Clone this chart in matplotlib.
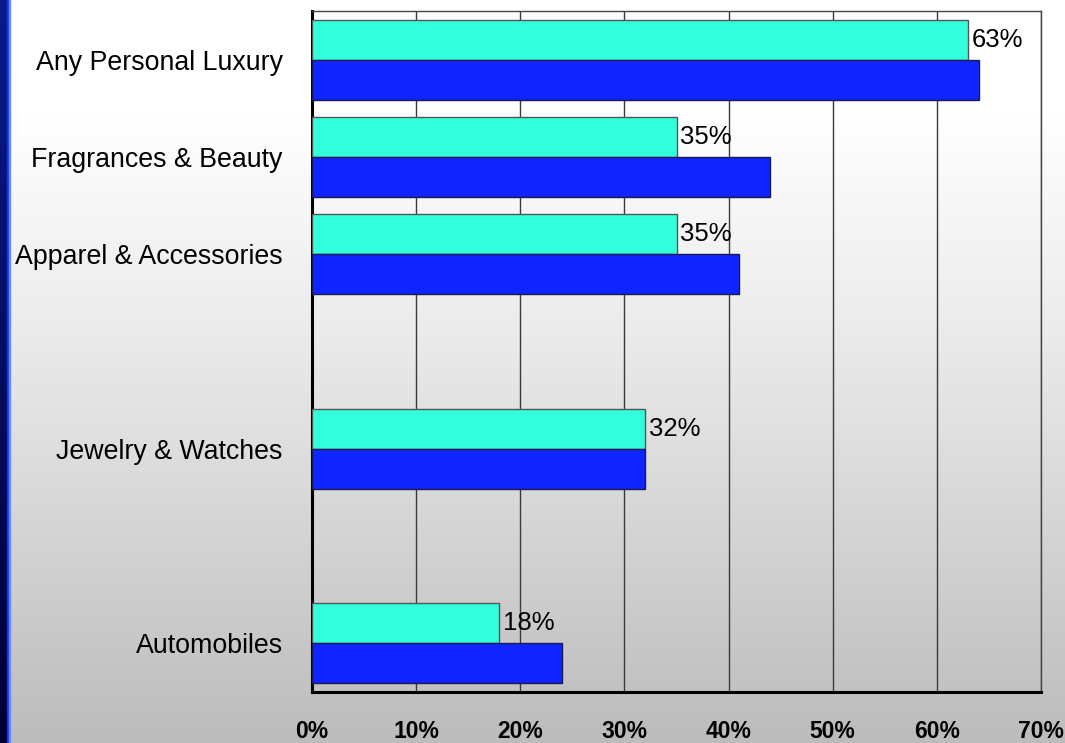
import numpy as np
import matplotlib
matplotlib.use("Agg")
import matplotlib.pyplot as plt
from matplotlib.colors import LinearSegmentedColormap

plt.rcParams["font.family"] = ["Liberation Sans", "DejaVu Sans"]

# blank slots are empty rows in the original sheet
categories = ["Any Personal Luxury", "Fragrances & Beauty", "Apparel & Accessories", "",
              "Jewelry & Watches", "", "Automobiles"]
series_a = [63, 35, 35, np.nan, 32, np.nan, 18]
series_b = [64, 44, 41, np.nan, 32, np.nan, 24]
x_ticks = [0, 10, 20, 30, 40, 50, 60, 70]

CYAN = "#33FFDD"
BLUE = "#1024FF"

fig = plt.figure(figsize=(10.65, 7.43), dpi=100)

# background gradient (white top -> gray bottom)
bg = fig.add_axes([0, 0, 1, 1], zorder=-10)
grad = np.linspace(0, 1, 256).reshape(-1, 1)
bg_cmap = LinearSegmentedColormap.from_list(
    "bg", [(0, "#bcbcbc"), (0.55, "#ebebeb"), (0.85, "#ffffff"), (1, "#ffffff")])
bg.imshow(grad, aspect="auto", cmap=bg_cmap, origin="lower", extent=[0, 1, 0, 1])
# left blue strip
strip_cmap = LinearSegmentedColormap.from_list("strip", ["#000033", "#0a1a8a"])
bg.imshow(grad, aspect="auto", cmap=strip_cmap, origin="lower", extent=[0, 7 / 1065, 0, 1])
bg.axvspan(7 / 1065, 9 / 1065, color="#1030ff")
bg.axvspan(9 / 1065, 10 / 1065, color="#6a8cff")
bg.set_xlim(0, 1)
bg.set_ylim(0, 1)
bg.axis("off")

ax = fig.add_axes([312 / 1065, 1 - 692 / 743, (1041 - 312) / 1065, (692 - 11) / 743])
ax.patch.set_alpha(0)

y = np.arange(len(categories))
h = 0.41
ax.barh(y - h / 2, series_a, height=h, color=CYAN, edgecolor="#555555", linewidth=1, zorder=3)
ax.barh(y + h / 2, series_b, height=h, color=BLUE, edgecolor="#1a1a50", linewidth=1, zorder=3)

for yi, v in zip(y, series_a):
    if np.isnan(v):
        continue
    ax.annotate(f"{v:.0f}%", (v, yi - h / 2), xytext=(2.5, 0), textcoords="offset points",
                ha="left", va="center", fontsize=18.5, color="black", zorder=4)

ax.set_xlim(0, 70)
ax.set_ylim(len(categories) - 0.5, -0.5)
ax.set_xticks(x_ticks)
ax.set_xticklabels([f"{t}%" for t in x_ticks], fontsize=16.5, fontweight="bold")
ax.set_yticks(y)
ax.set_yticklabels(categories, fontsize=19.3)
ax.tick_params(axis="x", length=0, pad=20)
ax.tick_params(axis="y", length=0, pad=21)

ax.grid(axis="x", color="#3a3a3a", linewidth=1, zorder=1)
ax.set_axisbelow(True)
for side in ("left", "bottom"):
    ax.spines[side].set_linewidth(2.2)
    ax.spines[side].set_color("black")
for side in ("top", "right"):
    ax.spines[side].set_linewidth(1)
    ax.spines[side].set_color("#444444")

fig.savefig("out.png", dpi=100)
plt.close(fig)
